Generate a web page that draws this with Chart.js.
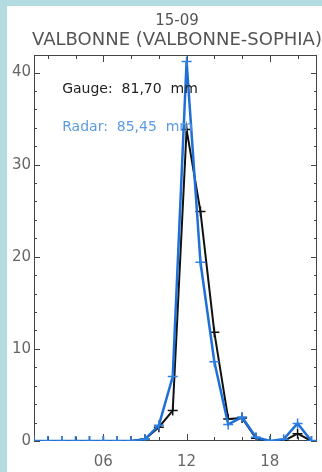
<!DOCTYPE html>
<html>
<head>
<meta charset="utf-8">
<script src="https://cdn.jsdelivr.net/npm/chart.js@4"></script>
<style>
  html, body { margin: 0; padding: 0; width: 322px; height: 472px; overflow: hidden; background: #b2dce0; }
  #panel { position: absolute; left: 7px; top: 6px; width: 340px; height: 466px; background: #fff; }
  canvas { display: block; }
</style>
</head>
<body>
<div id="panel"><canvas id="RainChart" width="340" height="466"></canvas></div>
<script>
// hourly rain, 15-09, Valbonne
const hours = [1, 2, 3, 4, 5, 6, 7, 8, 9, 10, 11, 12, 13, 14, 15, 16, 17, 18, 19, 20, 21, 22];
const gaugeMm = [0, 0, 0, 0, 0, 0, 0, 0, 0.2, 1.5, 3.3, 33.8, 24.9, 11.8, 2.4, 2.5, 0.3, 0, 0, 0.8, 0, 0];
const radarMm = [0, 0, 0, 0, 0, 0, 0, 0, 0.2, 1.7, 7.0, 41.2, 19.4, 8.6, 1.8, 2.6, 0.4, 0, 0.2, 1.9, 0, 0];
const xTickLabels = [6, 12, 18];
const yTickLabels = [0, 10, 20, 30, 40];
const dateLabel = "15-09";
const stationLabel = "VALBONNE (VALBONNE-SOPHIA)";
const gaugeLabel = "Gauge:  81,70  mm";
const radarLabel = "Radar:  85,45  mm";

const FONT = "'DejaVu Sans', sans-serif";

// frame with inward ticks, like the old IDL plots
const framePlugin = {
  id: 'frame',
  beforeDatasetsDraw(chart) {
    const { ctx, chartArea: a, scales: { x, y } } = chart;
    ctx.save();
    ctx.strokeStyle = '#444';
    ctx.lineWidth = 1;
    ctx.strokeRect(a.left + 0.5, a.top + 0.5, a.right - a.left - 1, a.bottom - a.top - 1);
    ctx.beginPath();
    for (let h = 2; h <= x.max; h += 2) {
      const px = Math.round(x.getPixelForValue(h)) + 0.5;
      const len = h % 6 === 0 ? 7 : 4;
      ctx.moveTo(px, a.bottom); ctx.lineTo(px, a.bottom - len);
      ctx.moveTo(px, a.top); ctx.lineTo(px, a.top + len);
    }
    for (let v = 0; v <= y.max; v += 2) {
      const py = Math.round(y.getPixelForValue(v)) + 0.5;
      const len = v % 10 === 0 ? 6 : 3;
      ctx.moveTo(a.left, py); ctx.lineTo(a.left + len, py);
      ctx.moveTo(a.right, py); ctx.lineTo(a.right - len, py);
    }
    ctx.stroke();

    // two-line title, centred a bit right of the panel middle
    ctx.fillStyle = '#555';
    ctx.textAlign = 'center';
    ctx.textBaseline = 'middle';
    ctx.font = "15px " + FONT;
    ctx.fillText(dateLabel, 170, 15);
    ctx.font = "18px " + FONT;
    ctx.fillText(stationLabel, 170, 34);
    ctx.restore();
  },
  afterDatasetsDraw(chart) {
    const { ctx, scales: { x, y } } = chart;
    ctx.save();
    ctx.font = "14px " + FONT;
    ctx.textBaseline = 'middle';
    ctx.fillStyle = '#222';
    ctx.fillText(gaugeLabel, x.getPixelForValue(3.03), y.getPixelForValue(38.2));
    ctx.fillStyle = '#5b9be0';
    ctx.fillText(radarLabel, x.getPixelForValue(3.03), y.getPixelForValue(34.0));
    ctx.restore();
  }
};

const ctx = document.getElementById('RainChart').getContext('2d');
new Chart(ctx, {
  type: 'line',
  data: {
    datasets: [{
      label: 'Radar',
      data: hours.map((h, i) => ({ x: h, y: radarMm[i] })),
      borderColor: '#1f6fd6',
      borderWidth: 2.5,
      pointStyle: 'cross',
      pointRadius: 5,
      pointBorderWidth: 1.5,
      pointBorderColor: '#2f80e0',
      tension: 0,
      order: 1
    }, {
      label: 'Gauge',
      data: hours.map((h, i) => ({ x: h, y: gaugeMm[i] })),
      borderColor: '#111',
      borderWidth: 2,
      pointStyle: 'cross',
      pointRadius: 5,
      pointBorderWidth: 1.5,
      pointBorderColor: '#111',
      tension: 0,
      order: 2
    }]
  },
  options: {
    responsive: false,
    animation: false,
    devicePixelRatio: 1,
    layout: { padding: { left: 0, right: 30, top: 49, bottom: 0 } },
    plugins: {
      legend: { display: false },
      tooltip: { enabled: false },
      title: { display: false }
    },
    scales: {
      x: {
        type: 'linear',
        min: 1,
        max: 21.4,
        grid: { display: false, drawTicks: false },
        border: { display: false },
        afterBuildTicks: s => { s.ticks = xTickLabels.map(v => ({ value: v })); },
        afterFit: s => { s.height = 31; },
        ticks: {
          color: '#666',
          padding: 12,
          maxRotation: 0,
          font: { family: FONT, size: 15 },
          callback: v => String(v).padStart(2, '0')
        }
      },
      y: {
        min: 0,
        max: 41.9,
        grid: { display: false, drawTicks: false },
        border: { display: false },
        afterBuildTicks: s => { s.ticks = yTickLabels.map(v => ({ value: v })); },
        afterFit: s => { s.width = 27; },
        ticks: {
          color: '#666',
          padding: 3,
          font: { family: FONT, size: 15 }
        }
      }
    }
  },
  plugins: [framePlugin]
});
</script>
</body>
</html>
